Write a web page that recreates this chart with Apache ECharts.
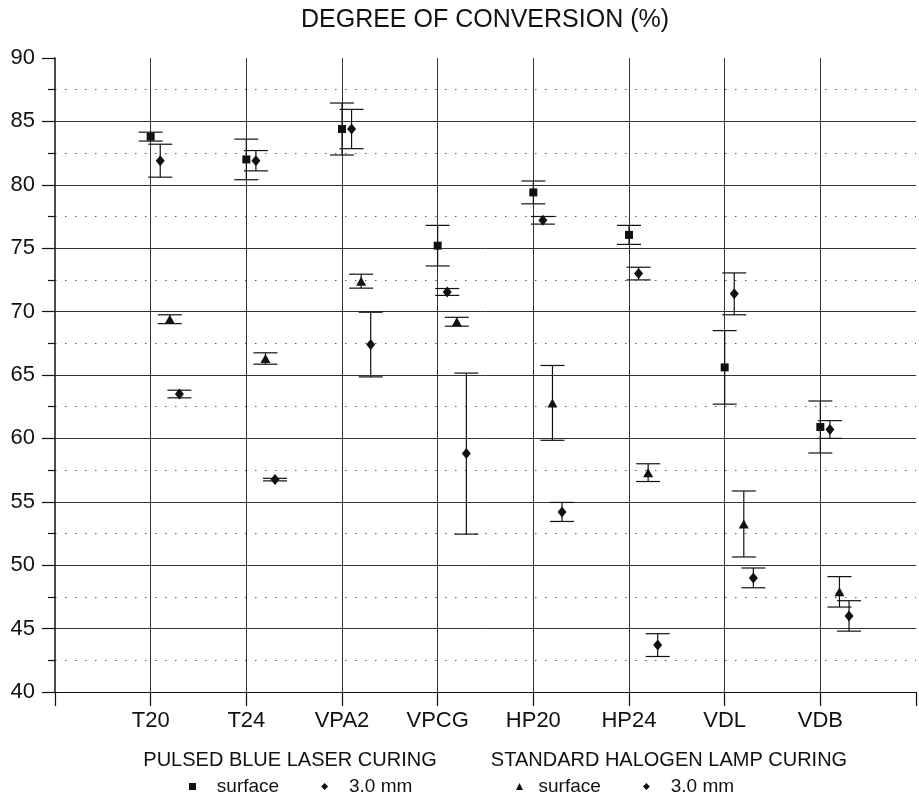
<!DOCTYPE html>
<html>
<head>
<meta charset="utf-8">
<script src="https://cdn.jsdelivr.net/npm/echarts@6/dist/echarts.min.js"></script>
<style>html,body{margin:0;padding:0;background:#fff}#chart{width:919px;height:796px}</style>
</head>
<body>
<div id="chart"></div>
<script>
const categories = ['T20', 'T24', 'VPA2', 'VPCG', 'HP20', 'HP24', 'VDL', 'VDB'];
const yTicks = [40, 45, 50, 55, 60, 65, 70, 75, 80, 85, 90];

const laserSurface    = [83.8, 82.0, 84.4, 75.2, 79.4, 76.05, 65.6, 60.9];
const laserSurfaceSD  = [0.35, 1.6, 2.05, 1.6, 0.9, 0.75, 2.9, 2.05];
const laserDeep       = [81.9, 81.9, 84.4, 71.55, 77.2, 73.0, 71.4, 60.7];
const laserDeepSD     = [1.3, 0.8, 1.55, 0.27, 0.3, 0.5, 1.65, 0.7];
const halogenSurface  = [69.4, 66.3, 72.4, 69.2, 62.8, 57.3, 53.25, 47.9];
const halogenSurfaceSD= [0.35, 0.45, 0.55, 0.35, 2.95, 0.7, 2.6, 1.2];
const halogenDeep     = [63.5, 56.75, 67.4, 58.8, 54.2, 43.7, 49.0, 46.0];
const halogenDeepSD   = [0.3, 0.1, 2.55, 6.35, 0.75, 0.9, 0.78, 1.2];

const FONT = 'Liberation Sans, Arial, sans-serif';
const INK = '#111';

const groups = [
  {name: 'Laser|surface',   vals: laserSurface,   sd: laserSurfaceSD,   off: 0.0, symbol: 'rect',     size: 8},
  {name: 'Laser|3.0 mm',    vals: laserDeep,      sd: laserDeepSD,      off: 0.1, symbol: 'diamond',  size: [9, 11]},
  {name: 'Halogen|surface', vals: halogenSurface, sd: halogenSurfaceSD, off: 0.2, symbol: 'triangle', size: [10, 9]},
  {name: 'Halogen|3.0 mm',  vals: halogenDeep,    sd: halogenDeepSD,    off: 0.3, symbol: 'diamond',  size: [9, 11]}
];

const series = [];
groups.forEach(g => {
  series.push({
    type: 'custom',
    name: g.name + '|err',
    silent: true,
    z: 3,
    data: g.vals.map((v, i) => [i + g.off, v - g.sd[i], v + g.sd[i]]),
    renderItem: function (params, api) {
      const x = api.value(0);
      const pLo = api.coord([x, api.value(1)]);
      const pHi = api.coord([x, api.value(2)]);
      const hw = 12;
      const st = {stroke: INK, lineWidth: 1.2};
      return {
        type: 'group',
        children: [
          {type: 'line', shape: {x1: pLo[0], y1: pLo[1], x2: pHi[0], y2: pHi[1]}, style: st},
          {type: 'line', shape: {x1: pHi[0] - hw, y1: pHi[1], x2: pHi[0] + hw, y2: pHi[1]}, style: st},
          {type: 'line', shape: {x1: pLo[0] - hw, y1: pLo[1], x2: pLo[0] + hw, y2: pLo[1]}, style: st}
        ]
      };
    }
  });
  series.push({
    type: 'scatter',
    name: g.name,
    symbol: g.symbol,
    symbolSize: g.size,
    z: 4,
    itemStyle: {color: INK, opacity: 1},
    data: g.vals.map((v, i) => [i + g.off, v])
  });
});

const legendLabel = n => (n === 'Halogen|surface' ? '  ' : '   ') + n.split('|')[1];

const chart = echarts.init(document.getElementById('chart'), null, {renderer: 'canvas'});
chart.setOption({
  animation: false,
  backgroundColor: '#fff',
  textStyle: {fontFamily: FONT},
  title: [
    {text: 'DEGREE OF CONVERSION (%)', left: 480, top: 3, textAlign: 'center',
     textStyle: {fontFamily: FONT, fontSize: 25, fontWeight: 'normal', color: INK}},
    {text: 'PULSED BLUE LASER CURING', left: 285, top: 745, textAlign: 'center',
     textStyle: {fontFamily: FONT, fontSize: 20, fontWeight: 'normal', color: INK}},
    {text: 'STANDARD HALOGEN LAMP CURING', left: 664, top: 745, textAlign: 'center',
     textStyle: {fontFamily: FONT, fontSize: 20, fontWeight: 'normal', color: INK}}
  ],
  legend: [
    {left: 184, top: 772, itemWidth: 7, itemHeight: 7, itemGap: 42,
     data: [{name: 'Laser|surface', icon: 'rect'}, {name: 'Laser|3.0 mm', icon: 'diamond'}],
     formatter: legendLabel,
     textStyle: {fontFamily: FONT, fontSize: 19, color: INK}, selectedMode: false},
    {left: 511, top: 772, itemWidth: 7, itemHeight: 7, itemGap: 42,
     data: [{name: 'Halogen|surface', icon: 'triangle'}, {name: 'Halogen|3.0 mm', icon: 'diamond'}],
     formatter: legendLabel,
     textStyle: {fontFamily: FONT, fontSize: 19, color: INK}, selectedMode: false}
  ],
  grid: {left: 55, right: 2, top: 58, bottom: 104, containLabel: false},
  xAxis: {
    type: 'value', min: -1, max: 8, interval: 1,
    axisLine: {show: true, onZero: false, lineStyle: {color: INK, width: 1.2}},
    axisTick: {show: true, length: 14, lineStyle: {color: INK, width: 1.2}},
    axisLabel: {formatter: v => categories[v] || '', fontFamily: FONT, fontSize: 22, color: INK, margin: 18},
    splitLine: {show: true, showMinLine: false, showMaxLine: false, lineStyle: {color: '#333', width: 1}}
  },
  yAxis: {
    type: 'value', min: yTicks[0], max: yTicks[yTicks.length - 1], interval: 5,
    axisLine: {show: true, onZero: false, lineStyle: {color: INK, width: 1.5}},
    axisTick: {show: true, length: 13, lineStyle: {color: INK, width: 1.2}},
    minorTick: {show: true, splitNumber: 2, length: 7, lineStyle: {color: INK, width: 1.2}},
    axisLabel: {fontFamily: FONT, fontSize: 22, color: INK, margin: 20},
    splitLine: {show: true, showMaxLine: false, lineStyle: {color: '#333', width: 1}},
    minorSplitLine: {show: true, lineStyle: {color: '#555', width: 1, type: [1.5, 8.5]}}
  },
  series: series
});
</script>
</body>
</html>
